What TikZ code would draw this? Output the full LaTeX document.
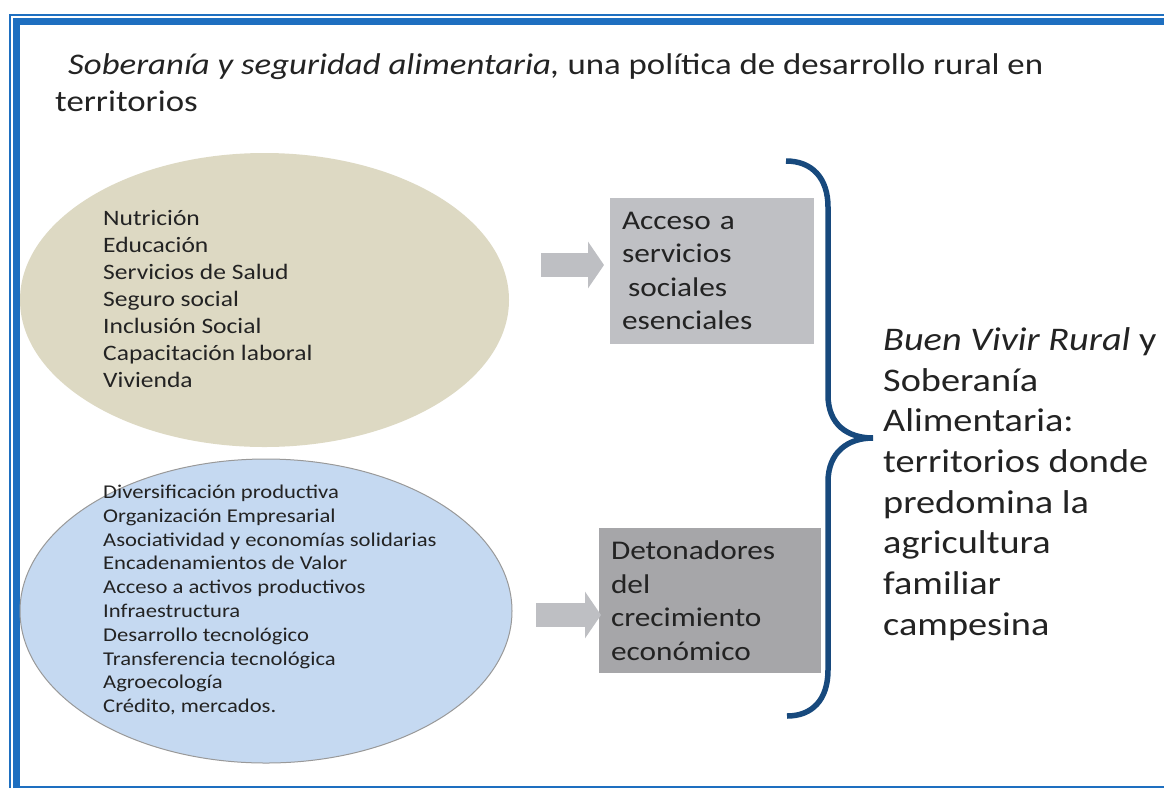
\documentclass[tikz,border=0pt]{standalone}
\usepackage{fontspec}
\setmainfont{Carlito}[FakeStretch=1.16]
\usetikzlibrary{shapes.geometric,arrows.meta}
\definecolor{marco}{RGB}{30,111,192}
\definecolor{llave}{RGB}{23,73,125}
\definecolor{arena}{RGB}{221,217,195}
\definecolor{celeste}{RGB}{197,217,241}
\definecolor{gris1}{RGB}{191,192,196}
\definecolor{gris2}{RGB}{166,166,169}
\definecolor{flecha}{RGB}{190,191,195}
\definecolor{texto}{RGB}{35,35,35}

\begin{document}
\begin{tikzpicture}[x=1pt, y=-1pt,
	every node/.style={text=texto, inner sep=0pt},
	caja/.style={rectangle, align=left, inner xsep=12pt, font=\fontsize{27}{33.5}\selectfont},
	bloque/.style={flecha, line width=24pt, -{Triangle[width=46pt, length=16pt]}}]
				\useasboundingbox (0,0) rectangle (1164,788);
				\draw[marco, line width=2.2pt] (10,788) -- (10,15) -- (1164,15);
				\draw[marco, line width=7pt] (16.5,788) -- (16.5,21.5) -- (1164,21.5);
				\draw[marco, line width=2pt] (20,786.5) -- (1164,786.5);
				\node[anchor=west, align=left, font=\fontsize{30}{37}\selectfont] (titulo) at (55,83) {\hspace*{13pt}\textit{Soberanía y seguridad alimentaria,} una política de desarrollo rural en\\territorios};
				\node[ellipse, fill=arena, minimum width=489pt, minimum height=294pt] (social) at (264.5,300) {};
				\node[ellipse, fill=celeste, draw=gray!80, line width=1pt, minimum width=492pt, minimum height=304pt] (econ) at (266,611) {};
				\node[anchor=west, align=left, font=\fontsize{22}{27}\selectfont] (socialtxt) at (103,299) {Nutrición\\Educación\\Servicios de Salud\\Seguro social\\Inclusión Social\\Capacitación laboral\\Vivienda};
				\node[anchor=west, align=left, font=\fontsize{19.5}{23.8}\selectfont] (econtxt) at (103,600) {Diversificación productiva\\Organización Empresarial\\Asociatividad y economías solidarias\\Encadenamientos de Valor\\Acceso a activos productivos\\Infraestructura\\Desarrollo tecnológico\\Transferencia tecnológica\\Agroecología\\Crédito, mercados.};
				\node[caja, fill=gris1, text width=180pt, minimum height=146pt] (servicios) at (712,271) {Acceso a\\servicios\\\hspace*{6pt}sociales\\esenciales};
				\node[caja, fill=gris2, text width=198pt, minimum height=145pt] (detonadores) at (710,600.5) {Detonadores\\del\\crecimiento\\económico};
				\coordinate (f1) at (541,265);
				\coordinate (f2) at (604,265);
				\coordinate (f3) at (536,615);
				\coordinate (f4) at (601,615);
				\draw[bloque] (f1) -- (f2);
				\draw[bloque] (f3) -- (f4);
				\draw[llave, line width=5.5pt] (786,161) .. controls (812,161) and (828,178) .. (828,207) -- (828,395) .. controls (828,425) and (848,438) .. (873,438) .. controls (848,438) and (828,452) .. (828,482) -- (828,670) .. controls (828,700) and (812,716) .. (787,716);
				\node[anchor=west, align=left, font=\fontsize{33}{40.7}\selectfont] (buenvivir) at (883,484) {\textit{Buen Vivir Rural} y\\Soberanía\\Alimentaria:\\territorios donde\\predomina la\\agricultura\\familiar\\campesina};
			\end{tikzpicture}
\end{document}
